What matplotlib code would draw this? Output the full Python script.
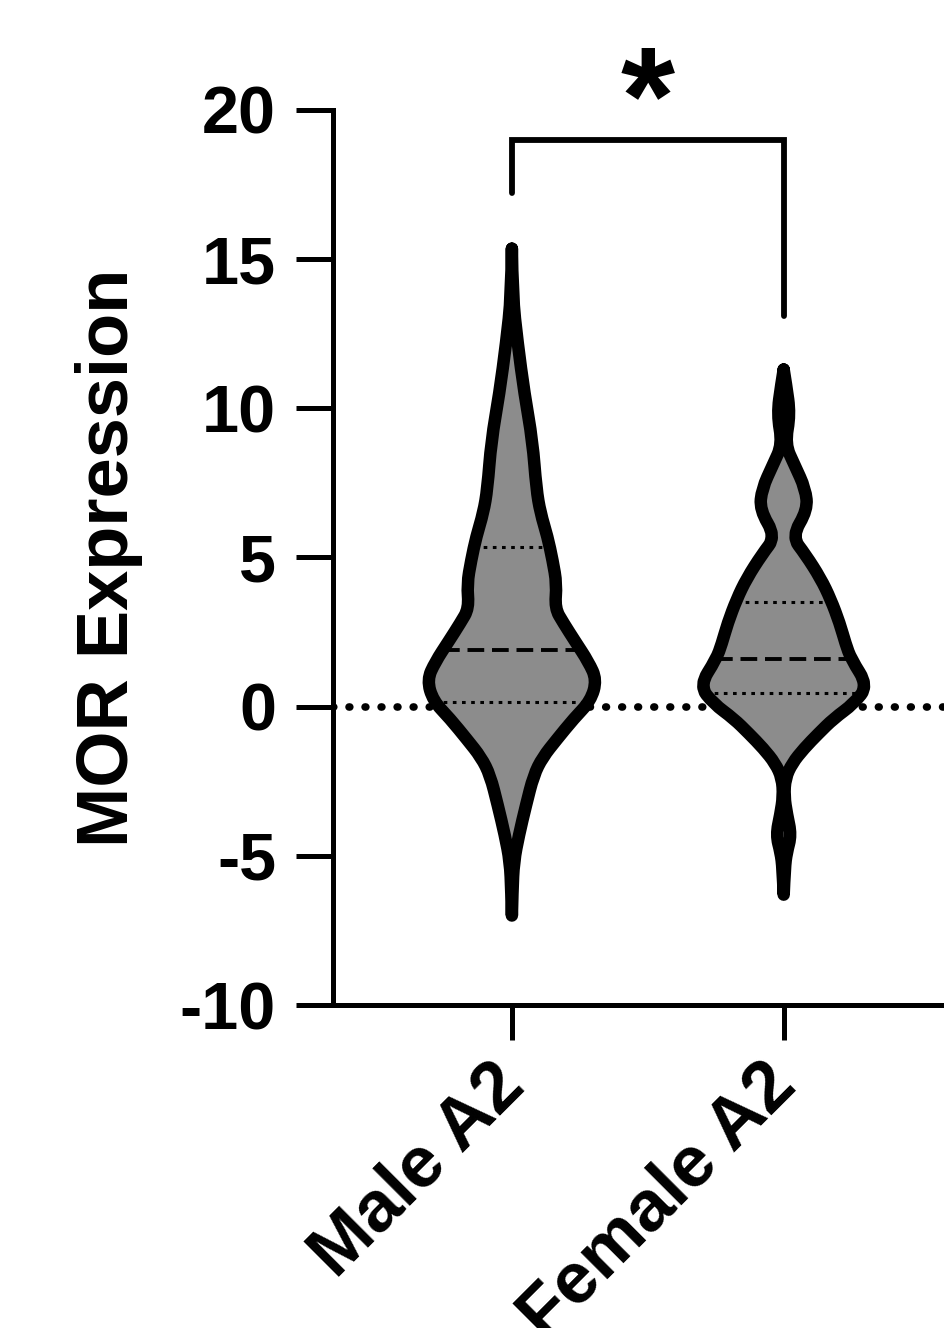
import matplotlib
matplotlib.use("Agg")
import matplotlib.pyplot as plt
import matplotlib.transforms as mtransforms
from matplotlib.path import Path
from matplotlib.patches import PathPatch
import numpy as np

plt.rcParams['font.family'] = ['Liberation Sans', 'DejaVu Sans']
plt.rcParams['font.weight'] = 'bold'
plt.rcParams['axes.unicode_minus'] = False

groups = ["Male A2", "Female A2"]

# violin outlines: value, half width (in category spacing)
male_y = [15.35, 13.8, 12.2, 10.5, 8.9, 7.3, 6.5, 5.7, 4.9, 4.1, 3.3, 2.8, 2.2,
          1.5, 0.9, 0.2, -0.4, -1.1, -1.7, -2.3, -3.3, -4.3, -5.2, -6.2, -7.0]
male_w = [0.0, 0.002, 0.021, 0.046, 0.076, 0.090, 0.105, 0.131, 0.150, 0.165, 0.158, 0.190, 0.232,
          0.282, 0.312, 0.290, 0.228, 0.165, 0.113, 0.080, 0.052, 0.026, 0.007, 0.002, 0.0]

female_y = [11.3, 10.8, 9.8, 8.8, 8.1, 7.3, 6.6, 5.7, 5.1, 4.3, 3.6, 2.8, 2.1, 1.6,
            0.7, 0.1, -0.4, -0.9, -1.4, -1.9, -2.4, -3.0, -3.6, -4.3, -4.9, -5.4, -6.3]
female_w = [0.0, 0.009, 0.024, 0.005, 0.040, 0.080, 0.088, 0.030, 0.080, 0.136, 0.173, 0.206, 0.228, 0.248,
            0.310, 0.258, 0.184, 0.128, 0.075, 0.031, 0.006, 0.002, 0.012, 0.028, 0.011, 0.004, 0.0]

medians = [1.9, 1.6]
q1 = [0.15, 0.45]
q3 = [5.35, 3.5]

# significance bracket
sig_y = 19.0
sig_ends = [17.2, 13.1]
sig_text = "*"


def smooth_side(pts):
    # quadratic b-spline through the outline points, ends kept fixed
    verts = [pts[0]]
    codes = [Path.MOVETO]
    n = len(pts)
    for k in range(1, n - 1):
        end = pts[n - 1] if k == n - 2 else ((pts[k][0] + pts[k + 1][0]) / 2, (pts[k][1] + pts[k + 1][1]) / 2)
        verts += [pts[k], end]
        codes += [Path.CURVE3, Path.CURVE3]
    return verts, codes


def violin_path(pos, ys, ws):
    left = [(pos - w, y) for y, w in zip(ys, ws)]
    right = [(pos + w, y) for y, w in zip(ys[::-1], ws[::-1])]
    v1, c1 = smooth_side(left)
    v2, c2 = smooth_side(right)
    return Path(v1 + v2[1:], c1 + c2[1:])


fig = plt.figure(figsize=(9.44, 13.28), dpi=100)
ax = fig.add_axes([0.3528, 0.2432, 0.6674, 0.674])

ax.axhline(0, color='black', lw=5.5, dashes=(0.1, 2.0), dash_capstyle='round', zorder=1)

fill = '#8c8c8c'
for i, (ys, ws) in enumerate([(male_y, male_w), (female_y, female_w)]):
    pos = i + 1
    p = violin_path(pos, ys, ws)
    ax.add_patch(PathPatch(p, facecolor=fill, edgecolor='none', zorder=2))
    ya = np.array(ys)[::-1]
    wa = np.array(ws)[::-1]
    hw = np.interp(medians[i], ya, wa)
    ax.plot([pos - hw, pos + hw], [medians[i]] * 2, color='black', lw=2.8,
            dashes=(4.3, 2.0), zorder=3)
    for v in (q1[i], q3[i]):
        hw = np.interp(v, ya, wa)
        ax.plot([pos - hw, pos + hw], [v, v], color='black', lw=2.2, dashes=(1.2, 1.8), zorder=3)
    ax.add_patch(PathPatch(p, facecolor='none', edgecolor='black', lw=9,
                           joinstyle='round', capstyle='round', zorder=4))

# bracket
ax.plot([1, 1, 2, 2], [sig_ends[0], sig_y, sig_y, sig_ends[1]], color='black', lw=4.2,
        solid_joinstyle='miter', solid_capstyle='round', clip_on=False, zorder=5)
ax.text(1.5, 20.1, sig_text, ha='center', va='center', fontsize=100, fontweight='bold',
        clip_on=False)

ax.set_xlim(0.342, 2.66)
ax.set_ylim(-10, 20)
ax.set_yticks([-10, -5, 0, 5, 10, 15, 20])
ax.set_xticks([1, 2])

for s in ['top', 'right']:
    ax.spines[s].set_visible(False)
for s in ['left', 'bottom']:
    ax.spines[s].set_linewidth(3.6)

ax.tick_params(axis='y', length=27, width=3.6, labelsize=48, pad=14)
ax.tick_params(axis='x', length=25, width=3.6, labelsize=52, pad=8)

ax.set_xticklabels(groups, rotation=45, ha='right', va='top', rotation_mode='anchor')
offset = mtransforms.ScaledTranslation(-23 / 100, 0, fig.dpi_scale_trans)
for lab in ax.get_xticklabels():
    lab.set_transform(lab.get_transform() + offset)

ax.set_ylabel("MOR Expression", fontsize=52, fontweight='bold')
ax.yaxis.set_label_coords(-0.3016, 0.5)

fig.savefig("out.png", dpi=100)
